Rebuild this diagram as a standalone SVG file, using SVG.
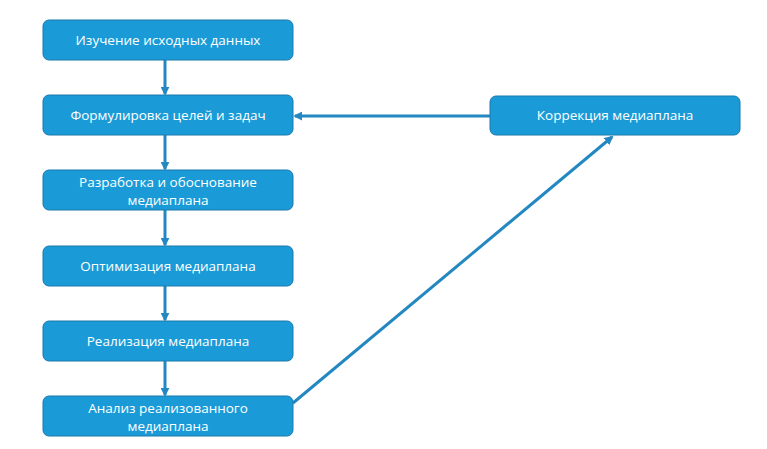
<svg xmlns="http://www.w3.org/2000/svg" width="767" height="449" viewBox="0 0 767 449">
<style>
.n{fill:#1a9bd7;stroke:#1b78ad;stroke-width:1}
.t{font-family:"Open Sans","Liberation Sans",sans-serif;font-size:13.5px;fill:#fff;text-anchor:middle}
.c{stroke:#2388c2;stroke-width:3;fill:none;marker-end:url(#a)}
</style>
<defs><marker id="a" viewBox="0 0 10 10" refX="8" refY="5" markerWidth="3" markerHeight="3" orient="auto"><path d="M0,0L10,5L0,10z" fill="#2388c2"/></marker></defs>
<rect width="767" height="449" fill="#fff"/>
<g id="connectors">
<line class="c" x1="165" y1="60" x2="165" y2="94"/>
<line class="c" x1="165" y1="135" x2="165" y2="169"/>
<line class="c" x1="165" y1="210" x2="165" y2="245"/>
<line class="c" x1="165" y1="286" x2="165" y2="320"/>
<line class="c" x1="165" y1="361" x2="165" y2="395"/>
<line class="c" x1="490" y1="116" x2="295" y2="116"/>
<line class="c" x1="293" y1="403" x2="612" y2="137"/>
</g>
<g id="n1"><rect class="n" x="43" y="20" width="250" height="40" rx="6"/><text class="t" x="168" y="45">Изучение исходных данных</text></g>
<g id="n2"><rect class="n" x="43" y="95" width="250" height="40" rx="6"/><text class="t" x="168" y="120">Формулировка целей и задач</text></g>
<g id="n3"><rect class="n" x="43" y="170" width="250" height="40" rx="6"/><text class="t" x="168" y="187">Разработка и обоснование</text><text class="t" x="168" y="205">медиаплана</text></g>
<g id="n4"><rect class="n" x="43" y="246" width="250" height="40" rx="6"/><text class="t" x="168" y="271">Оптимизация медиаплана</text></g>
<g id="n5"><rect class="n" x="43" y="321" width="250" height="40" rx="6"/><text class="t" x="168" y="346">Реализация медиаплана</text></g>
<g id="n6"><rect class="n" x="43" y="396" width="250" height="40" rx="6"/><text class="t" x="168" y="413">Анализ реализованного</text><text class="t" x="168" y="431">медиаплана</text></g>
<g id="n7"><rect class="n" x="490" y="96" width="250" height="39" rx="6"/><text class="t" x="615" y="120">Коррекция медиаплана</text></g>
</svg>
